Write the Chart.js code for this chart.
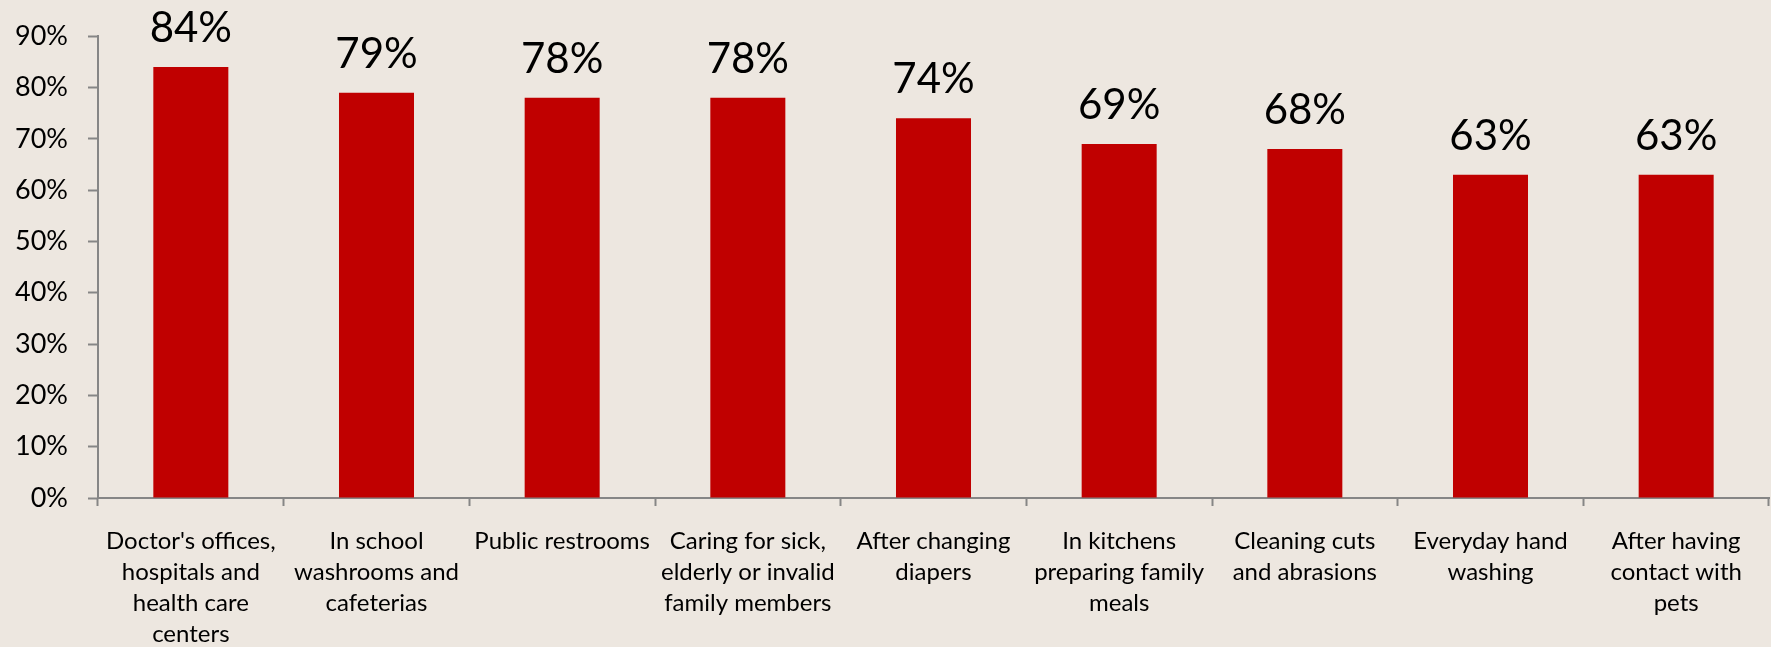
<!DOCTYPE html>
<html>
<head>
<meta charset="utf-8">
<script src="https://cdn.jsdelivr.net/npm/chart.js@4/dist/chart.umd.min.js"></script>
<style>
  html, body { margin: 0; padding: 0; background: #ede7e0; }
  #wrap { width: 1771px; height: 647px; }
</style>
</head>
<body>
<div id="wrap"><canvas id="chart"></canvas></div>
<script>
const categories = [
    ["Doctor's offices,", "hospitals and", "health care", "centers"],
    ["In school", "washrooms and", "cafeterias"],
    ["Public restrooms"],
    ["Caring for sick,", "elderly or invalid", "family members"],
    ["After changing", "diapers"],
    ["In kitchens", "preparing family", "meals"],
    ["Cleaning cuts", "and abrasions"],
    ["Everyday hand", "washing"],
    ["After having", "contact with", "pets"]
];
const values = [84, 79, 78, 78, 74, 69, 68, 63, 63];
const yTicks = [0, 10, 20, 30, 40, 50, 60, 70, 80, 90];

const axisColor = '#868686';
const fontFamily = 'Lato, "Open Sans", sans-serif';

// labels above bars
const barLabels = {
    id: 'barLabels',
    afterDatasetsDraw(chart) {
        const ctx = chart.ctx;
        const meta = chart.getDatasetMeta(0);
        ctx.save();
        ctx.font = '42px ' + fontFamily;
        ctx.fillStyle = '#000';
        ctx.textAlign = 'center';
        ctx.textBaseline = 'alphabetic';
        meta.data.forEach((bar, i) => {
            ctx.fillText(values[i] + '%', bar.x, bar.y - 25);
        });
        ctx.restore();
    }
};

new Chart(document.getElementById('chart'), {
    type: 'bar',
    data: {
        labels: categories,
        datasets: [{
            data: values,
            backgroundColor: '#c00000',
            borderWidth: 0,
            barPercentage: 0.404,
            categoryPercentage: 1
        }]
    },
    options: {
        responsive: true,
        maintainAspectRatio: false,
        animation: false,
        layout: { padding: { top: 36, right: 2, left: 0, bottom: 0 } },
        plugins: {
            legend: { display: false },
            tooltip: { enabled: false }
        },
        scales: {
            x: {
                offset: true,
                grid: {
                    offset: true,
                    drawOnChartArea: false,
                    drawTicks: true,
                    tickLength: 8,
                    tickWidth: 2,
                    color: axisColor
                },
                border: { display: true, color: axisColor, width: 2 },
                ticks: {
                    color: '#000',
                    font: { family: fontFamily, size: 24, lineHeight: '31px' },
                    padding: 20,
                    maxRotation: 0,
                    autoSkip: false
                },
                afterFit(scale) { scale.height = 149; }
            },
            y: {
                min: 0,
                max: 90,
                afterBuildTicks(scale) {
                    scale.ticks = yTicks.map(v => ({ value: v }));
                },
                grid: {
                    drawOnChartArea: false,
                    drawTicks: true,
                    tickLength: 10,
                    tickWidth: 2,
                    color: axisColor
                },
                border: { display: true, color: axisColor, width: 2 },
                ticks: {
                    color: '#000',
                    font: { family: fontFamily, size: 27 },
                    padding: 20,
                    callback: v => v + '%'
                },
                afterFit(scale) { scale.width = 98; }
            }
        }
    },
    plugins: [barLabels]
});
</script>
</body>
</html>
